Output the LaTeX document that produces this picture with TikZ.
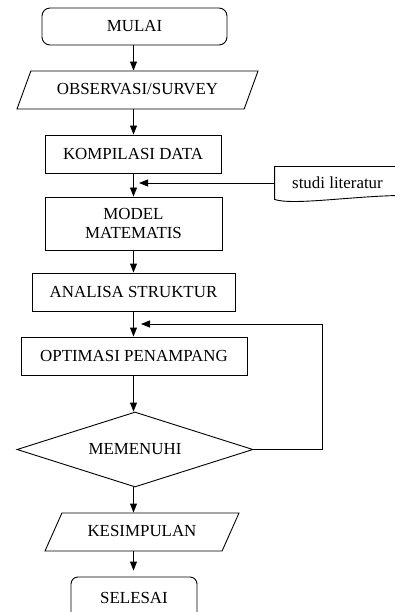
\documentclass[tikz,border=0pt]{standalone}
\usepackage{fontspec}
\setmainfont{Liberation Serif}
\usetikzlibrary{shapes.geometric,arrows.meta}

\def\xAxis{133.5}
\def\xLoop{322}

\begin{document}
\begin{tikzpicture}[x=1pt, y=-1pt, line width=.9pt,
    font=\fontsize{16.9}{18.5}\selectfont,
    every node/.style={inner sep=0pt, align=center},
    arr/.style={-{Triangle[length=9pt, width=7pt]}},
    terminal/.style={draw, rounded corners=8pt, minimum height=38pt},
    process/.style={draw, rectangle, minimum height=38pt},
    io/.style={draw, trapezium, trapezium left angle=#1,
      trapezium right angle=180-#1, trapezium stretches body,
      text height=12.5pt, text depth=3.5pt, inner ysep=11pt},
    decision/.style={draw, diamond, aspect=3.15}]
  \useasboundingbox (0,0) rectangle (395,612);
  % --
  \coordinate (axis) at (\xAxis, 0);

  \node[terminal, minimum width=185pt, minimum height=37pt] (mulai) at (134.5, 26.5) {MULAI};
  \node[io=70, minimum width=241pt] (obs) at (137.5, 90) {OBSERVASI/SURVEY};
  \node[process, minimum width=176pt] (komp) at (133, 154) {KOMPILASI DATA};
  \node[process, minimum width=177pt, minimum height=53pt] (model) at (133.5, 223.5) {MODEL\\MATEMATIS};
  \node[process, minimum width=203pt] (analisa) at (133.5, 292) {ANALISA STRUKTUR};
  \node[process, minimum width=226pt] (optimasi) at (134, 356) {OPTIMASI PENAMPANG};
  \node[decision, minimum width=236pt, minimum height=75pt] (memenuhi) at (135, 449.5) {MEMENUHI};
  \node[io=66, minimum width=194pt] (kesimpulan) at (142, 532) {KESIMPULAN};
  \node[terminal, minimum width=126pt, minimum height=42pt, rounded corners=7pt] (selesai) at (134, 598) {SELESAI};

  % -- main flow
  \foreach\a/\b in {mulai/obs, obs/komp, komp/model, model/analisa,
      analisa/optimasi, optimasi/memenuhi, memenuhi/kesimpulan} {
    \draw[arr] (\a.south -| axis) -- (\b.north -| axis);
  }
  \draw[arr, shorten >=6pt] (kesimpulan.south -| axis) -- (selesai.north -| axis);

  % -- studi literatur (document)
  \node[minimum width=125pt, minimum height=32pt] (studi) at (337.5, 183) {studi literatur};
  \draw (studi.north east) -- (studi.north west) -- (studi.south west)
      .. controls +(18, 6) and +(-50, 1) .. ++(125, -4) -- cycle;
  \coordinate (litin) at (139, 183);
  \draw[arr] (studi.west) -- (litin);

  % -- loop back
  \coordinate (loopin) at (141, 324);
  \draw[arr] (memenuhi.east) -- (\xLoop, 449.5) |- (loopin);

\end{tikzpicture}
\end{document}
